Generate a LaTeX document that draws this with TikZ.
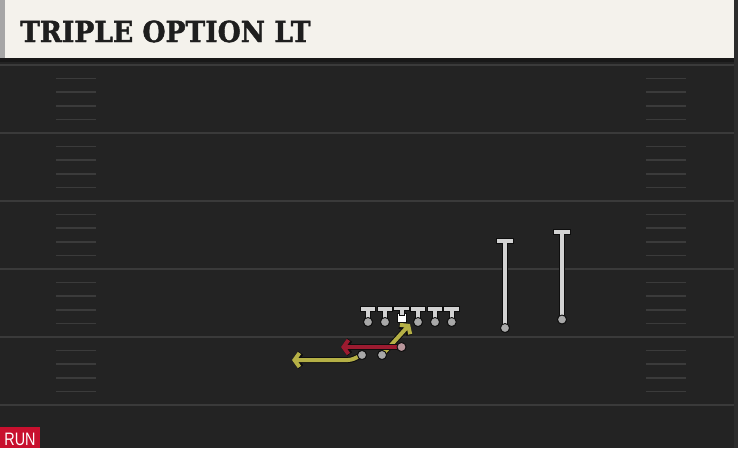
\documentclass[tikz,border=0pt]{standalone}
\usepackage{fontspec}
\usetikzlibrary{arrows.meta}
\newfontfamily\titlefont[BoldFeatures={FakeBold=1.5}]{DejaVu Serif}
\newfontfamily\runfont{Liberation Sans}
\definecolor{fieldc}{HTML}{232323}
\definecolor{headc}{HTML}{F4F2EC}
\definecolor{headbar}{HTML}{A6A6A6}
\definecolor{headline}{HTML}{181818}
\definecolor{edgec}{HTML}{2C2C2C}
\definecolor{titlec}{HTML}{1E1E1E}
\definecolor{yardc}{HTML}{3A3A3A}
\definecolor{hashc}{HTML}{3B3B3B}
\definecolor{plgray}{HTML}{D2D2D2}
\definecolor{dotgray}{HTML}{A8A8A8}
\definecolor{qbgray}{HTML}{B9969B}
\definecolor{outl}{HTML}{0E0E0E}
\definecolor{yel}{HTML}{B5B046}
\definecolor{redr}{HTML}{9C1B30}
\definecolor{runred}{HTML}{C8102E}
\tikzset{
  yard/.style={draw=yardc, line width=2pt},
  hash/.style={draw=hashc, line width=1.5pt},
  tline/.style={draw=plgray, line width=3.6pt, line cap=rect,
     preaction={draw=outl, line width=5.6pt, line cap=rect}},
  rline/.style={draw=plgray, line width=4.2pt, line cap=rect,
     preaction={draw=outl, line width=6.2pt, line cap=rect}},
  pdot/.style={circle, fill=dotgray, draw=outl, line width=0.9pt, inner sep=0pt, minimum size=9pt},
  qbdot/.style={pdot, fill=qbgray},
  ctr/.style={rectangle, fill=white, draw=outl, line width=0.9pt, inner sep=0pt, minimum size=9pt},
  route/.style={line width=4pt, line cap=butt, line join=round,
     -{Straight Barb[length=5pt,width=14pt]},
     preaction={draw=outl, line width=6pt}},
}
\begin{document}
\begin{tikzpicture}[x=1pt,y=-1pt]
\useasboundingbox (0,0) rectangle (738,448);
\fill[fieldc] (0,0) rectangle (738,448);
% header
\fill[headc] (0,0) rectangle (734,58);
\fill[headbar] (0,0) rectangle (5,58);
\fill[headline] (0,58) rectangle (738,62);
\fill[edgec] (734,0) rectangle (738,448);
\node[anchor=base west, inner sep=0pt, text=titlec,
      font=\titlefont\bfseries\fontsize{29}{29}\selectfont, xscale=0.915] (title) at (20,42) {TRIPLE OPTION LT};
% yard lines
\foreach \y in {65,133,201,269,337,405} \draw[yard] (0,\y) -- (734,\y);
% hash marks
\foreach \y in {65,133,201,269,337} {
  \foreach \k in {1,...,4} {
    \draw[hash] (56,\y+13.6*\k) -- (96,\y+13.6*\k);
    \draw[hash] (646,\y+13.6*\k) -- (686,\y+13.6*\k);
  }
}
% backs and their routes
\node[pdot] (fb) at (382,355) {};
\node[pdot] (pb) at (362,355) {};
\node[qbdot] (qb) at (401.5,347) {};
\coordinate (fbend) at (410,324);
\coordinate (pbbend) at (351,360);
\coordinate (pbend) at (292,360);
\coordinate (qbend) at (341,347);
\draw[route, yel] (fb.center) -- (fbend);
\draw[route, yel, rounded corners=3pt] (pb.center) -- (pbbend) -- (pbend);
\draw[route, redr] (qb.center) -- (qbend);
\node[pdot] at (fb) {};
\node[pdot] at (pb) {};
\node[qbdot] at (qb) {};
% offensive line
\foreach \n/\x in {lt/368,lg/385,rg/418,rt/435,te/451.7} {
  \node[pdot] (\n) at (\x,322) {};
  \draw[tline] (\n.north) -- (\x,309) (\x-5.5,309) -- (\x+5.5,309);
  \node[pdot] at (\n) {};
}
\node[ctr] (c) at (401.7,318) {};
\draw[tline] (c.north) -- (401.7,308.5) (396.2,308.5) -- (407.2,308.5);
% receivers
\node[pdot] (wr1) at (505,328) {};
\coordinate (wr1end) at (505,241);
\draw[rline] (wr1.north) -- (wr1end) ([xshift=-6pt]wr1end) -- ([xshift=6pt]wr1end);
\node[pdot] at (wr1) {};
\node[pdot] (wr2) at (562,319.5) {};
\coordinate (wr2end) at (562,232);
\draw[rline] (wr2.north) -- (wr2end) ([xshift=-6pt]wr2end) -- ([xshift=6pt]wr2end);
\node[pdot] at (wr2) {};
% run tag
\fill[runred] (0,427) rectangle (40,448);
\node[anchor=base, inner sep=0pt, text=white, font=\runfont\fontsize{18}{18}\selectfont, xscale=0.8] (run) at (20,445) {RUN};
\end{tikzpicture}
\end{document}
